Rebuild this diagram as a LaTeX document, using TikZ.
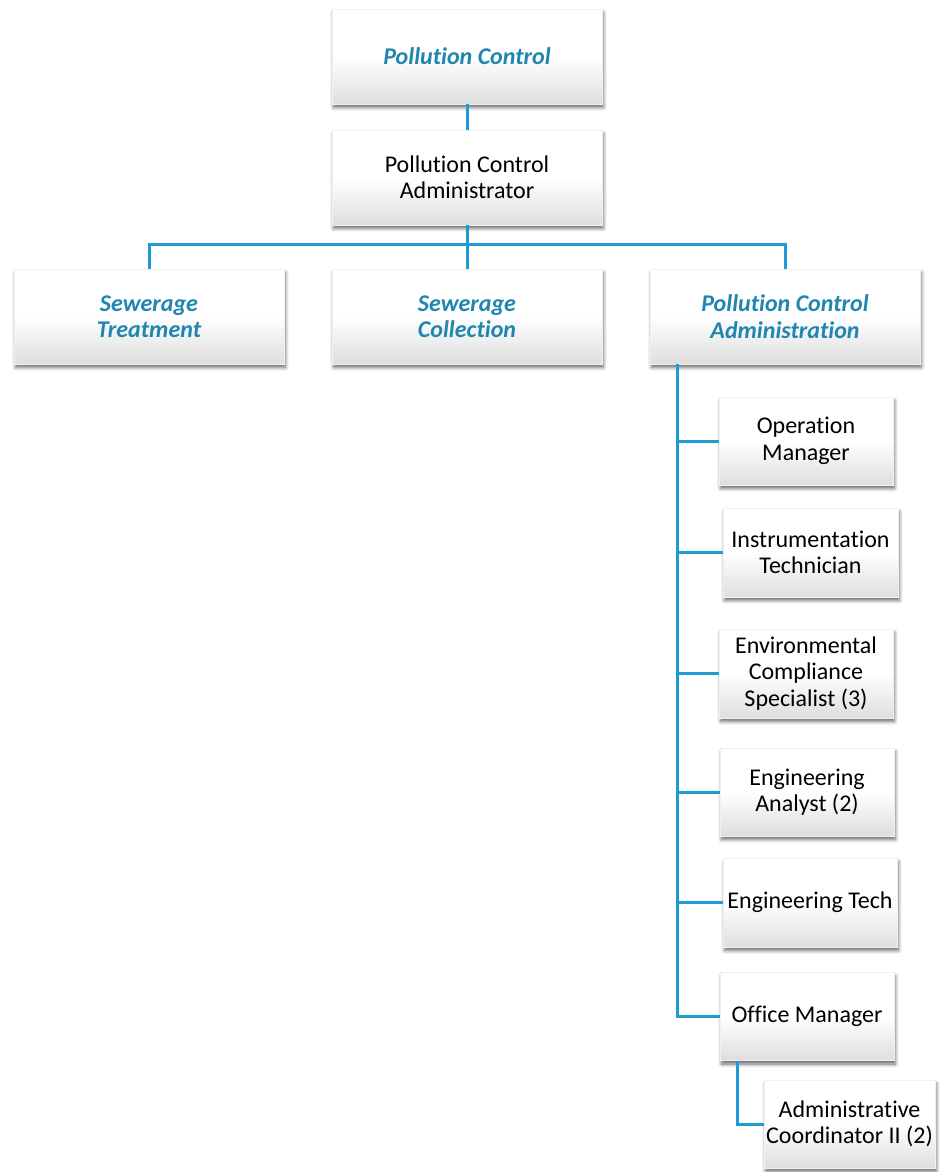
\documentclass[tikz,border=0pt]{standalone}
\usepackage{fontspec}
\setmainfont{Carlito}[Ligatures=NoCommon]
\usetikzlibrary{shadows.blur}
\definecolor{titlec}{RGB}{31,134,176}
\definecolor{linec}{RGB}{30,155,210}
\tikzset{
  box/.style={rectangle, inner sep=2pt, align=center, draw=black!6,
    top color=white, bottom color=black!13, middle color=white,
    blur shadow={shadow xshift=1.5pt, shadow yshift=-3.5pt, shadow blur steps=6, shadow blur radius=3.5pt, shadow opacity=60},
    font=\fontsize{24}{26.5}\selectfont},
  bigbox/.style={box, minimum width=270pt, minimum height=95pt},
  titlebox/.style={bigbox, text=titlec, font=\fontsize{24}{26.5}\selectfont\bfseries\itshape},
  conn/.style={draw=linec, line width=3pt}
}
\begin{document}
\begin{tikzpicture}[x=1pt,y=-1pt]
\useasboundingbox (0,0) rectangle (940,1172);
\node[titlebox] (top) at (467,56.5) {Pollution Control};
\node[bigbox] (adm) at (467,177.5) {Pollution Control\\Administrator};
\node[titlebox] (st) at (149,316.5) {Sewerage\\Treatment};
\node[titlebox] (sc) at (467,316.5) {Sewerage\\Collection};
\node[titlebox] (pca) at (785,316.5) {Pollution Control\\Administration};
\node[box, minimum width=174pt, minimum height=88pt] (om) at (806,441) {Operation\\Manager};
\node[box, minimum width=175pt, minimum height=89pt] (it) at (810.5,552.5) {Instrumentation\\Technician};
\node[box, minimum width=174pt, minimum height=89pt] (ec) at (806,673.5) {Environmental\\Compliance\\Specialist (3)};
\node[box, minimum width=174pt, minimum height=88pt] (ea) at (807,792) {Engineering\\Analyst (2)};
\node[box, minimum width=174pt, minimum height=89pt] (et) at (810,902.5) {Engineering Tech};
\node[box, minimum width=174pt, minimum height=88pt] (ofm) at (807,1016.5) {Office Manager};
\node[box, minimum width=171pt, minimum height=88pt] (ac) at (849.5,1124) {Administrative\\Coordinator II (2)};
\draw[conn] (top.south) -- (adm.north);
\coordinate (bus) at (467,244);
\draw[conn] (adm.south) -- (bus);
\draw[conn] (bus) -| (st.north);
\draw[conn] (bus) -- (sc.north);
\draw[conn] (bus) -| (pca.north);
\coordinate (sp) at ([xshift=28pt]pca.south west);
\draw[conn] (sp) |- (om.west);
\draw[conn] (sp) |- (it.west);
\draw[conn] (sp) |- (ec.west);
\draw[conn] (sp) |- (ea.west);
\draw[conn] (sp) |- (et.west);
\draw[conn] (sp) |- (ofm.west);
\coordinate (sp2) at ([xshift=18pt]ofm.south west);
\draw[conn] (sp2) |- (ac.west);
\end{tikzpicture}
\end{document}
